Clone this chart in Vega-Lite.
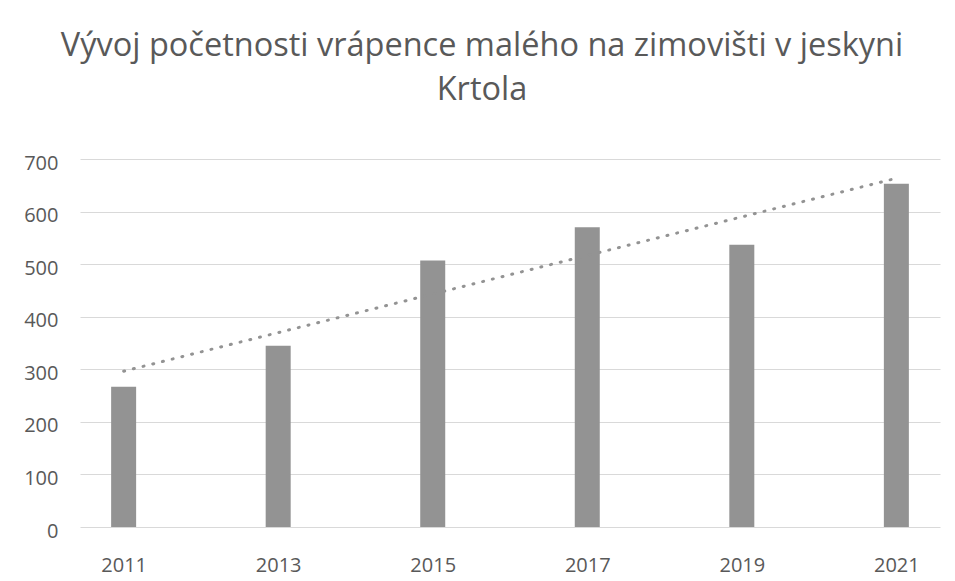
{
  "$schema": "https://vega.github.io/schema/vega-lite/v6.json",
  "autosize": "none",
  "width": 860,
  "height": 368,
  "padding": {"left": 80, "top": 159, "right": 15, "bottom": 54},
  "background": "white",
  "title": {
    "text": ["Vývoj početnosti vrápence malého na zimovišti v jeskyni", "Krtola"],
    "font": "Open Sans",
    "fontSize": 32.5,
    "fontWeight": "normal",
    "color": "#595959",
    "anchor": "middle",
    "dx": -28,
    "offset": 47,
    "lineHeight": 44
  },
  "config": {"view": {"stroke": null}},
  "data": {"values": [
    {"year": 2011, "count": 267},
    {"year": 2013, "count": 345},
    {"year": 2015, "count": 507},
    {"year": 2017, "count": 570},
    {"year": 2019, "count": 537},
    {"year": 2021, "count": 653}
  ]},
  "encoding": {
    "x": {
      "field": "year",
      "type": "quantitative",
      "scale": {"domain": [2010.5, 2021.5], "nice": false, "zero": false},
      "axis": {
        "title": null,
        "values": [2011, 2013, 2015, 2017, 2019, 2021],
        "format": "d",
        "grid": false,
        "domain": false,
        "ticks": false,
        "labelPadding": 28,
        "labelFont": "Open Sans",
        "labelFontSize": 20,
        "labelColor": "#595959",
        "labelFlush": false,
        "labelOverlap": false
      }
    }
  },
  "layer": [
    {
      "mark": {"type": "bar", "width": 25, "color": "#939393"},
      "encoding": {
        "y": {
          "field": "count",
          "type": "quantitative",
          "scale": {"domain": [0, 700], "nice": false},
          "axis": {
            "title": null,
            "values": [0, 100, 200, 300, 400, 500, 600, 700],
            "grid": true,
            "gridColor": "#d9d9d9",
            "gridWidth": 1,
            "domain": false,
            "ticks": false,
            "labelPadding": 22,
            "labelOffset": 4,
            "labelFont": "Open Sans",
            "labelFontSize": 20,
            "labelColor": "#595959"
          }
        }
      }
    },
    {
      "transform": [{"regression": "count", "on": "year", "method": "linear"}],
      "mark": {"type": "line", "color": "#939393", "strokeWidth": 3, "strokeCap": "round", "strokeDash": [1, 9]},
      "encoding": {
        "y": {"field": "count", "type": "quantitative"}
      }
    }
  ]
}
